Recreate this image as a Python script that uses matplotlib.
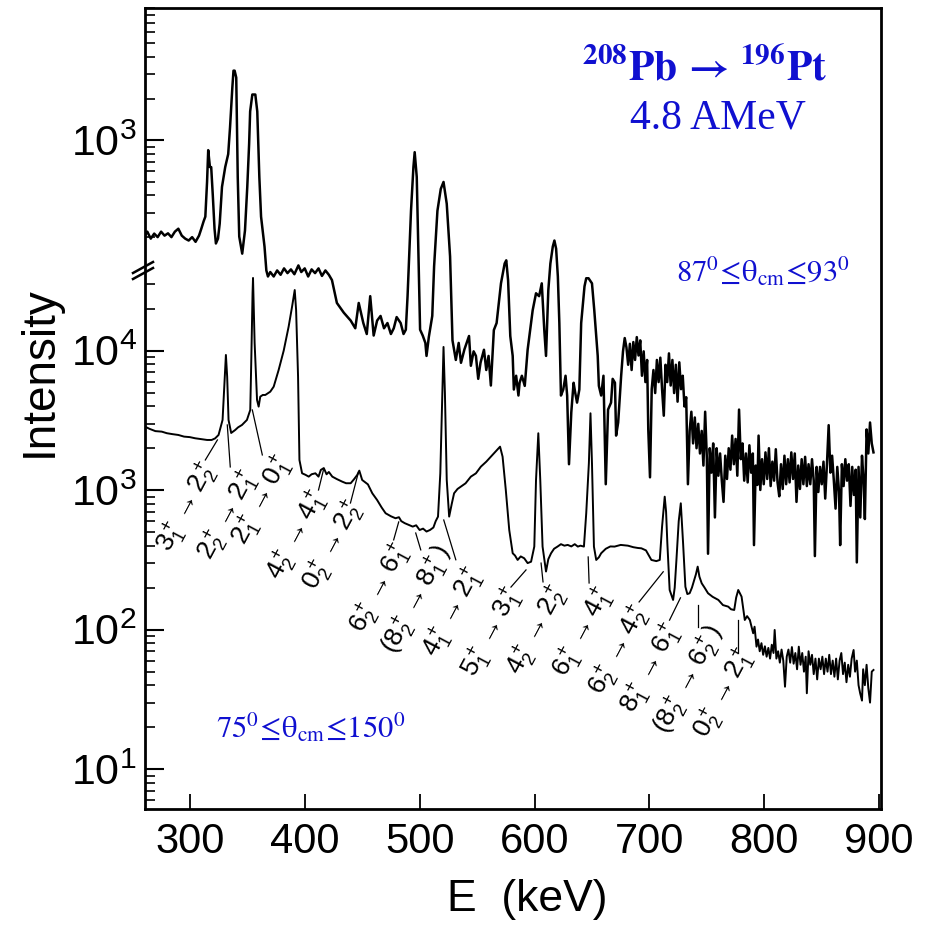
import matplotlib
matplotlib.use("Agg")
import matplotlib.pyplot as plt
from matplotlib.lines import Line2D

# ---- spectra ----
# upper spectrum, 87 <= theta_cm <= 93 (own intensity scale)
up = [(261, 205), (263, 219), (266, 195), (269, 212), (272, 200), (275, 219), (278, 205),
      (281, 213), (284, 200), (287, 219), (290, 230), (293, 205), (296, 195), (299, 189),
      (302, 200), (305, 185), (308, 205), (310, 230), (312, 260), (313.5, 281), (315, 500),
      (316, 848), (317.5, 640), (318.6, 640), (320, 400), (321.5, 230), (322.7, 180),
      (324.5, 195), (326, 250), (328, 461), (330.8, 640), (333.4, 794), (335, 1239),
      (337, 2399), (338, 3176), (339, 3176), (340.4, 2829), (341.7, 543), (343, 202),
      (345.6, 152), (348, 223), (350, 461), (351.6, 936), (352.5, 1614), (354.4, 2137),
      (357, 2137), (358.7, 1614), (360.5, 543), (362, 281), (365, 171), (366.6, 115),
      (368, 104), (370, 112), (373, 104), (376, 115), (379, 107), (382, 119), (385, 110),
      (388, 117), (391, 108), (394.5, 125), (397, 112), (400, 119), (403, 104), (406, 117),
      (409, 110), (412, 119), (415, 105), (418, 115), (421, 107), (423.7, 98), (428, 67),
      (434, 57), (440, 50), (444, 44), (447, 67), (451, 48), (454, 40), (457, 75), (460, 39),
      (463, 50), (466, 54), (469, 44), (472, 48), (475, 40), (477.5, 44), (480, 53),
      (483.5, 48), (486, 40), (488, 43), (489.5, 75), (492.5, 310), (494.6, 640),
      (495.7, 820), (497.5, 543), (499, 145), (500.4, 43), (502.7, 39), (505, 34.5),
      (506, 27.8), (508, 38), (511, 54), (512.6, 123), (515.5, 310), (518.4, 445),
      (520.8, 500), (523.6, 348), (526.5, 145), (528.6, 36), (531.5, 26), (534, 34.5),
      (536, 24.8), (539, 31), (541.7, 36), (543, 38.7), (544.6, 23.6), (547, 30),
      (549, 27.8), (551, 19), (553, 24.8), (556, 30.8), (558, 22), (560, 27.8), (562, 17),
      (564.6, 42.7), (567, 48), (570.8, 92.8), (574, 129), (575.4, 136), (577, 97.5),
      (578.9, 38.7), (581, 27.8), (582, 15.9), (584, 20), (586, 14.4), (587, 17.8),
      (589, 20), (591.5, 16.9), (594, 30.8), (598.4, 59.4), (601.3, 78.7), (604, 75),
      (606.3, 92.8), (608.5, 42.7), (610, 27.8), (612, 82.7), (613.8, 129), (615.9, 171),
      (617.3, 189), (618.8, 165), (620.3, 104), (621.6, 48), (623, 14.4), (625, 15.9),
      (627, 20), (628.4, 14.4), (630, 4.6), (632, 10.9), (634, 17.8), (635.4, 15.1),
      (637, 12.8), (639, 15.9), (640.6, 48), (643.5, 88.3), (645, 101), (647, 101),
      (650, 92.8), (652, 59.4), (655, 27.8), (656, 16.9), (658, 14.4), (660, 20), (662, 3.3),
      (664, 11.4), (666.6, 12.8), (668, 19), (670, 17.8), (671, 7.4), (672.8, 9.2),
      (675.4, 20), (677, 30), (678.5, 37.4), (680, 32), (681.5, 24), (683, 34), (684.5, 22),
      (686, 35), (687.5, 26), (689, 38), (690.5, 28), (692, 36), (693.5, 20), (695, 30),
      (696.5, 18), (698, 26), (699, 8.2), (700.5, 3.7), (702, 16), (703.5, 22), (705, 15),
      (706.5, 26), (708, 18), (709.5, 27), (711, 16), (712.5, 10.3), (714, 24), (715.5, 18),
      (717, 29), (718.5, 17), (720, 26), (721.5, 15), (723, 24), (724.5, 13), (726, 25),
      (727.5, 16), (729, 20), (730.5, 12), (732, 14), (733.5, 3.3), (735, 8), (736.5, 11),
      (738, 6.5), (739.5, 10), (741, 6), (742.5, 9), (744, 5.5), (745.5, 8), (747, 4.5),
      (748.5, 11), (750, 5), (751, 1.04), (752.5, 6), (754, 4), (755.5, 6.5), (757, 1.9),
      (758.5, 6), (760, 3.8), (761.5, 5.5), (763, 3.5), (764.5, 2.46), (766, 5.3),
      (767.5, 3.6), (769, 6), (770.5, 4.2), (772, 7.4), (773.5, 4.6), (775, 7), (776.5, 3.8),
      (778, 11.4), (779.5, 5), (781, 6.5), (782.5, 3.5), (784, 5.5), (785.5, 3.4),
      (787, 6.3), (788.5, 4), (790, 5.5), (791, 1.2), (792.5, 4.5), (794, 3.26), (795, 7.4),
      (796.5, 3), (798, 5), (799.5, 3.3), (801, 5.6), (802.5, 3.6), (804, 6), (805.5, 3.2),
      (807, 4.8), (808.5, 3.5), (810, 5.9), (811.5, 3.4), (813, 2.7), (814.5, 4.6),
      (816, 3.05), (817.5, 5.3), (819, 3.3), (820.5, 5), (822, 3.4), (823.5, 5.6),
      (825, 3.6), (826.5, 5.5), (828, 2.46), (829.5, 4.5), (831, 3.05), (832.5, 5),
      (834, 3.3), (835.5, 5.2), (837, 3.2), (838.5, 4.6), (840, 3.3), (841.5, 5), (843, 3.5),
      (844, 1.0), (845.5, 4.4), (847, 2.9), (848.5, 4.4), (850, 3.3), (851.5, 4.8),
      (853, 2.6), (854.5, 4.6), (856, 8.8), (857.5, 4), (859, 5.3), (860.5, 3.5), (862, 2.2),
      (863.5, 4.4), (865, 2.9), (866, 1.2), (867.5, 4.6), (869, 3.2), (870.5, 5),
      (872, 3.5), (873.5, 4.6), (875, 2.3), (876.5, 4.4), (878, 2.76), (879.5, 4.2),
      (880.5, 0.9), (882, 4.4), (883.5, 1.9), (885, 5.3), (886.5, 3.4), (887.5, 1.85),
      (889, 8.2), (890.5, 5.5), (892, 9.2), (893.5, 6.5), (895, 5.6)]

# lower spectrum, 75 <= theta_cm <= 150
lo = [(261, 2852), (265, 2750), (270, 2650), (275.6, 2627), (280, 2560), (285, 2520),
      (290, 2487), (295, 2420), (300, 2400), (304.6, 2355), (310, 2320), (315, 2290),
      (319, 2290), (322, 2350), (325, 2487), (328.5, 3187), (330, 5520), (331.4, 9315),
      (332.5, 6510), (333.7, 3187), (336, 2570), (339.5, 2700), (342, 2820), (345.4, 2934),
      (349.7, 3187), (352.6, 3757), (353.5, 8580), (354.6, 25900), (355, 33200),
      (356.4, 11350), (358.5, 4430), (359.9, 3970), (361.3, 4680), (363.5, 4813),
      (365.7, 4813), (368, 4950), (370, 5080), (373, 5520), (377.3, 7270), (381.7, 10000),
      (386, 14860), (389, 20700), (391.3, 27200), (392.5, 19570), (394.2, 6510),
      (395.4, 1646), (397.7, 1321), (400.5, 1290), (403.5, 1250), (406, 1300), (409.3, 1321),
      (412, 1250), (414, 1396), (416.6, 1440), (419, 1300), (421, 1350), (424, 1250),
      (428, 1200), (432.6, 1151), (436, 1121), (440, 1121), (443, 1200), (445.7, 1285),
      (447.5, 1380), (450, 1183), (455, 1100), (458.8, 950), (463, 850), (467, 750),
      (470.4, 683), (475, 650), (479, 629), (482, 640), (484, 600), (487, 580), (490.7, 563),
      (494, 548), (497, 560), (500, 518), (503, 530), (506, 505), (509, 518), (512, 540),
      (514, 600), (516, 646), (518, 1321), (519.5, 4000), (520.8, 10630), (522, 5000),
      (523.6, 1183), (525.7, 646), (528, 800), (530, 950), (533, 1020), (535.9, 1060),
      (540, 1120), (544.6, 1250), (549, 1320), (553.3, 1474), (558, 1600), (562, 1738),
      (566, 1890), (570, 2050), (572.2, 1738), (575, 1003), (578, 518), (581, 353),
      (583, 340), (585.3, 316), (588, 335), (591, 325), (594, 300), (597, 307),
      (599.8, 394), (601.3, 1183), (603.3, 2558), (605, 1183), (607, 394), (610, 261),
      (612, 320), (614.4, 353), (617, 380), (620, 394), (623, 410), (626, 400),
      (628.9, 405), (632, 395), (635, 410), (637.7, 394), (640, 400), (643, 394), (645, 683),
      (647.3, 1559), (648.7, 3557), (650, 1559), (651.7, 394), (653.7, 316), (656, 330),
      (658, 353), (662, 380), (666, 395), (669.7, 394), (675, 405), (681.3, 400), (686, 390),
      (690, 385), (693, 383), (697, 370), (701.7, 316), (706, 310), (709, 316), (711, 547),
      (713.3, 898), (714.5, 700), (715.6, 416), (717.6, 192.5), (720.6, 163.3), (722, 200),
      (723.5, 316), (725.5, 600), (727.3, 805), (729.3, 416), (731.3, 203), (733, 180),
      (735, 182.4), (737, 200), (739, 227), (740.5, 250), (742, 283), (743.5, 240),
      (745.5, 215), (748, 200), (751, 182.4), (755, 172), (760, 163.3), (764, 150),
      (768.6, 146.2), (771, 140), (773.8, 138.4), (775.5, 170), (777.3, 192.5),
      (780.2, 172.4), (783, 117.3), (785, 125), (787.4, 117.3), (790.3, 94.2), (791.5, 105),
      (793.2, 75.5), (794.5, 85), (796, 70), (797.5, 80), (799, 66), (800.5, 76), (802, 64),
      (803.5, 74), (805, 62), (806.5, 78), (808, 68), (809, 99.5), (810.5, 62), (812, 70),
      (813.5, 58), (815, 72), (816.5, 60), (818, 39), (819.5, 64), (821, 72), (822.5, 58),
      (824, 75), (825.5, 57), (827, 68), (828.5, 52), (830, 75.5), (831.5, 56), (833, 68),
      (834.5, 50), (836, 64), (837, 35), (838.5, 70), (840, 56), (841.5, 66), (843, 48),
      (844.5, 62), (846, 44), (847.5, 62), (849, 52), (850.5, 64), (852, 48), (853.5, 62),
      (855, 50), (856.5, 66), (858, 48), (859.5, 60), (861, 46), (862.5, 62), (864, 44),
      (865.5, 60), (867, 68), (868.5, 48), (870, 58), (871.5, 42), (873, 56), (874.5, 46),
      (876, 62), (877.7, 71.5), (879, 50), (880.5, 60), (882, 40), (883.4, 35), (885, 31),
      (886, 52), (887.5, 40), (889, 56), (890.5, 38), (892, 30), (893.5, 50), (895, 51.4)]

e_up = [p[0] for p in up]
c_up = [p[1] for p in up]
e_lo = [p[0] for p in lo]
c_lo = [p[1] for p in lo]

# transition labels on the lower spectrum
trans = [r"$3^+_1\rightarrow2^+_2$", r"$2^+_2\rightarrow2^+_1$", r"$2^+_1\rightarrow0^+_1$",
         r"$4^+_2\rightarrow4^+_1$", r"$0^+_2\rightarrow2^+_2$", r"$6^+_2\rightarrow6^+_1$",
         r"$(8^+_2\rightarrow8^+_1)$", r"$4^+_1\rightarrow2^+_1$", r"$5^+_1\rightarrow3^+_1$",
         r"$4^+_2\rightarrow2^+_2$", r"$6^+_1\rightarrow4^+_1$", r"$6^+_2\rightarrow4^+_2$",
         r"$8^+_1\rightarrow6^+_1$", r"$(8^+_2\rightarrow6^+_2)$", r"$0^+_2\rightarrow2^+_1$"]
lab_E = [298.5, 333.4, 363.1, 393.6, 425, 466, 498.3, 529.7, 563.8, 603.1, 642.4, 673.8,
         701.7, 734.9, 765.4]
lab_I = [758, 664, 850, 477, 405, 199, 163, 134, 96, 99.5, 95, 71.5, 53, 43.6, 35.2]
# leader lines: (E0, I0) at label end -> (E1, I1) at the peak
lead = [(313.5, 1646, 324, 2290), (335.2, 1467, 332.6, 2934), (363.1, 1788, 354.4, 3757),
        (412, 1003, 416.3, 1396), (439.8, 809, 446.8, 1350), (477.4, 440, 481.8, 592),
        (501, 373, 496.6, 493), (531.5, 317, 521, 611), (579.5, 202, 592.6, 268),
        (607.4, 220, 605.7, 300), (647.5, 216, 646.7, 332), (691, 158, 712, 260),
        (717.5, 117, 727, 169), (742.7, 104.5, 742.7, 150), (776.7, 68, 776.7, 117)]

# ---- fonts ----
sans = "Liberation Sans"
plt.rcParams["font.family"] = [sans, "DejaVu Sans"]
plt.rcParams["mathtext.fontset"] = "custom"
plt.rcParams["mathtext.rm"] = sans
plt.rcParams["mathtext.it"] = sans
plt.rcParams["mathtext.bf"] = sans + ":bold"

blue = "#1010d0"

fig = plt.figure(figsize=(9.26, 9.25), dpi=100)
ax = fig.add_axes([0.1566, 0.1254, 0.7945, 0.866])
ax.set_yscale("log")
ax.set_xlim(261, 901.3)
ax.set_ylim(5.18, 2.862e6)

ax2 = ax.twinx()
ax2.set_yscale("log")
ax2.set_ylim(0.01498, 8272)

ax2.plot(e_up, c_up, color="k", lw=1.8)
ax.plot(e_lo, c_lo, color="k", lw=1.4)

for sp in ax.spines.values():
    sp.set_linewidth(2)
for sp in ax2.spines.values():
    sp.set_visible(False)

# x axis
ax.set_xticks([300, 400, 500, 600, 700, 800, 900])
ax.tick_params(axis="x", direction="in", length=11, width=1.3, labelsize=30, pad=9, top=False)

# lower y axis (ticks only below the break)
ax.set_yticks([10, 100, 1000, 10000])
ax.set_yticklabels([r"$10^1$", r"$10^2$", r"$10^3$", r"$10^4$"])
minor_lo = [k * 10 ** n for n in range(0, 5) for k in range(2, 10) if 5.2 <= k * 10 ** n <= 3.2e4]
ax.set_yticks(minor_lo, minor=True)
ax.set_yticklabels([], minor=True)
ax.tick_params(axis="y", which="major", direction="in", length=14, width=1.5,
               labelsize=31, pad=6, right=False)
ax.tick_params(axis="y", which="minor", direction="in", length=7, width=1.2, right=False)

# upper y axis (ticks above the break, drawn on the left side)
ax2.yaxis.tick_left()
ax2.set_yticks([1000])
ax2.set_yticklabels([r"$10^3$"])
minor_up = [k * 10 ** n for n in (2, 3) for k in range(2, 10)]
ax2.set_yticks(minor_up, minor=True)
ax2.set_yticklabels([], minor=True)
ax2.tick_params(axis="y", which="major", direction="in", length=14, width=1.5,
                labelsize=31, pad=6, left=True, right=False, labelleft=True, labelright=False)
ax2.tick_params(axis="y", which="minor", direction="in", length=7, width=1.2,
                left=True, right=False)

# axis break mark on the left spine
for dy in (0, 6):
    fig.add_artist(Line2D([133 / 926, 153 / 926],
                          [1 - (279 - dy) / 925, 1 - (268 - dy) / 925],
                          color="k", lw=1.8))

fig.text(40 / 926, 1 - 372 / 925, "Intensity", rotation=90, ha="center", va="center",
         fontsize=33)
fig.text(527 / 926, 1 - 900 / 925, "E  (keV)", ha="center", va="center", fontsize=32)

# transition labels and leader lines
for t, x, y in zip(trans, lab_E, lab_I):
    ax.text(x, y, t, rotation=62, rotation_mode="anchor", ha="center", va="center",
            fontsize=19)
for x0, y0, x1, y1 in lead:
    ax.plot([x0, x1], [y0, y1], color="k", lw=0.9)

# blue annotations
ax.text(0.761, 0.925, r"$\mathbf{^{208}Pb\,\rightarrow\,^{196}Pt}$", transform=ax.transAxes,
        ha="center", va="center", fontsize=30, color=blue, math_fontfamily="stix")
ax.text(0.779, 0.8627, "4.8 AMeV", transform=ax.transAxes, ha="center", va="center",
        fontsize=30, color=blue, family="Liberation Serif")
ax.text(0.84, 0.670, r"$87^0\!\leq\!\mathrm{\theta}_{\rm cm}\!\leq\!93^0$",
        transform=ax.transAxes, ha="center", va="center", fontsize=22, color=blue,
        math_fontfamily="stix")
ax.text(0.2256, 0.101, r"$75^0\!\leq\!\mathrm{\theta}_{\rm cm}\!\leq\!150^0$",
        transform=ax.transAxes, ha="center", va="center", fontsize=22, color=blue,
        math_fontfamily="stix")

fig.savefig("out.png", dpi=100)
